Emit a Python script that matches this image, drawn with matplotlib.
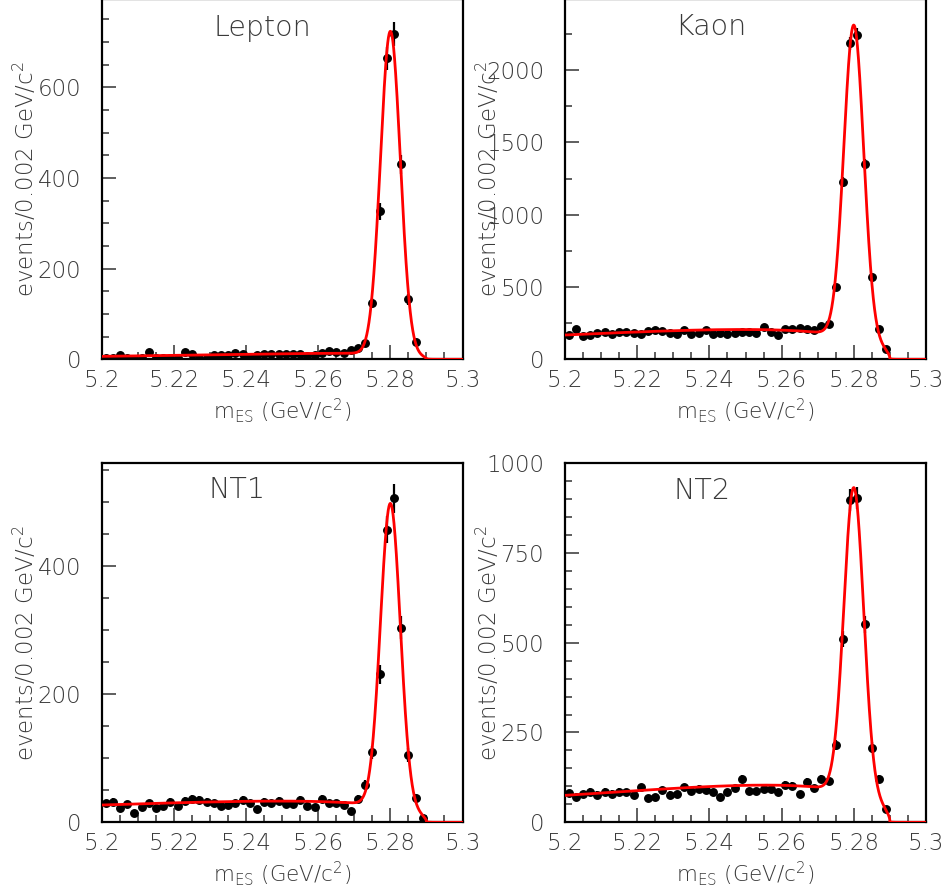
import numpy as np
import matplotlib.pyplot as plt
from matplotlib.ticker import MultipleLocator, FixedLocator

plt.rcParams['font.family'] = ['DejaVu Sans']
plt.rcParams['font.weight'] = 'light'
plt.rcParams['mathtext.default'] = 'regular'

# m_ES bin centres, 0.002 GeV/c^2 bins
mes = np.round(np.arange(5.201, 5.290, 0.002), 3)

lepton = [3, 2, 9, 2, 1, 2, 15, 2, 3, 2, 3, 17, 12, 3, 2, 10, 10, 10, 14, 12,
          4, 10, 11, 11, 12, 11, 12, 11, 8, 10, 14, 18, 16, 14, 20, 26, 37,
          124, 326, 664, 717, 430, 132, 39, np.nan]
kaon = [168, 207, 161, 166, 184, 191, 173, 189, 189, 180, 178, 198, 200, 193,
        180, 175, 200, 175, 182, 205, 175, 184, 173, 180, 189, 189, 184, 221,
        189, 166, 209, 212, 216, 209, 203, 232, 244, 498, 1224, 2184, 2245,
        1348, 571, 212, 69]
nt1 = [30, 32, 22, 28, 14, 24, 30, 23, 26, 32, 26, 33, 36, 35, 32, 30, 26, 27,
       30, 35, 30, 20, 32, 30, 34, 29, 28, 35, 26, 24, 37, 30, 30, 27, 17, 36,
       58, 109, 231, 457, 506, 304, 105, 38, 6]
nt2 = [81, 71, 79, 85, 77, 85, 80, 85, 83, 77, 97, 69, 71, 90, 77, 79, 97, 86,
       93, 90, 83, 71, 84, 95, 120, 87, 87, 93, 93, 84, 105, 101, 79, 113, 95,
       120, 114, 215, 510, 897, 902, 551, 208, 120, 36]

# fit results: gaussian height, mean, sigma; argus level at 5.2, argus shape
fit_lepton = dict(amp=712, mean=5.2800, sigma=0.00275, b0=6.5, c=-55)
fit_kaon = dict(amp=2162, mean=5.2800, sigma=0.00275, b0=168, c=-32)
fit_nt1 = dict(amp=474, mean=5.2800, sigma=0.00275, b0=27, c=-32)
fit_nt2 = dict(amp=852, mean=5.2800, sigma=0.00275, b0=75, c=-38)

E0 = 5.29


def argus(m, c):
    z = np.clip(1 - (m / E0) ** 2, 0, None)
    return m * np.sqrt(z) * np.exp(c * z)


def fitcurve(m, amp, mean, sigma, b0, c):
    bkg = b0 * argus(m, c) / argus(5.2, c)
    return amp * np.exp(-0.5 * ((m - mean) / sigma) ** 2) + bkg


panels = [
    ('Lepton', lepton, fit_lepton, 794, 200, 50, (102, 462.5, -0.7, 359.3), (0.444, 0.898)),
    ('Kaon', kaon, fit_kaon, 2489, 500, 250, (565, 926, -0.7, 359.3), (0.404, 0.900)),
    ('NT1', nt1, fit_nt1, 561, 200, 50, (102, 462.5, 463, 822.3), (0.374, 0.902)),
    ('NT2', nt2, fit_nt2, 1000, 250, 50, (565, 926, 463, 822.3), (0.379, 0.900)),
]

W, H = 947, 893
fig = plt.figure(figsize=(W / 100, H / 100), dpi=100)
txtcol = '#3a3a3a'
xs = np.linspace(5.2, 5.3, 2001)

for name, counts, fit, ymax, ymaj, ymin, box, tpos in panels:
    x0, x1, y0, y1 = box
    ax = fig.add_axes([x0 / W, 1 - y1 / H, (x1 - x0) / W, (y1 - y0) / H])
    counts = np.array(counts, dtype=float)
    ax.errorbar(mes, counts, yerr=np.sqrt(counts), fmt='o', color='black',
                ms=5.4, elinewidth=1.6, capsize=0, zorder=2)
    ax.plot(xs, fitcurve(xs, **fit), color='red', lw=2.0, zorder=3)

    ax.set_xlim(5.2, 5.3)
    ax.set_ylim(0, ymax)
    ax.xaxis.set_major_locator(FixedLocator([5.2, 5.22, 5.24, 5.26, 5.28, 5.3]))
    ax.set_xticklabels(['5.2', '5.22', '5.24', '5.26', '5.28', '5.3'])
    ax.xaxis.set_minor_locator(MultipleLocator(0.005))
    ax.yaxis.set_major_locator(MultipleLocator(ymaj))
    ax.yaxis.set_minor_locator(MultipleLocator(ymin))
    ax.tick_params(which='both', direction='in', top=False, right=False,
                   color='#333333', width=1.1, labelcolor=txtcol, labelsize=16.5)
    ax.tick_params(which='major', length=10)
    ax.tick_params(which='minor', length=5)
    ax.tick_params(axis='y', pad=15)
    ax.tick_params(axis='x', pad=7)
    for s in ax.spines.values():
        s.set_linewidth(1.6)
        s.set_color('black')

    ax.text(tpos[0], tpos[1], name, transform=ax.transAxes, ha='center',
            va='baseline', fontsize=20.5, color=txtcol)

    # axis titles placed in pixel positions relative to the frame
    xc = (x0 + x1) / 2
    fig.text(xc / W, 1 - (y1 + 51) / H, r'm$_{ES}$ (GeV/c$^2$)', ha='center',
             va='center', fontsize=15.5, color=txtcol)
    fig.text((x0 - 77) / W, 1 - ((y0 + y1) / 2) / H, r'events/0.002 GeV/c$^2$',
             rotation=90, ha='center', va='center', fontsize=16.5, color=txtcol)

fig.savefig('out.png', dpi=100)
